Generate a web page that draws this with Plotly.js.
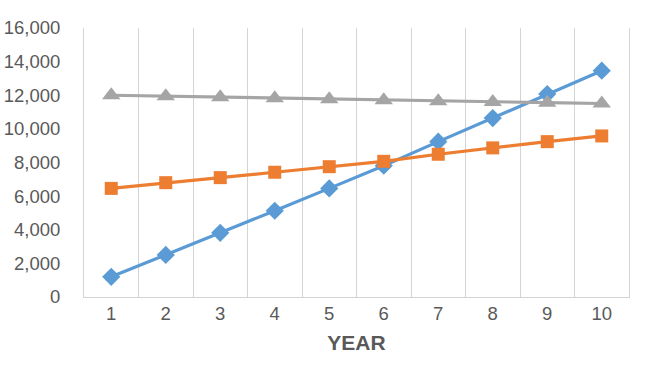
<!DOCTYPE html>
<html>
<head>
<meta charset="utf-8">
<script src="https://cdn.plot.ly/plotly-3.0.1.min.js"></script>
<style>html,body{margin:0;padding:0;background:#fff;}#chart{width:648px;height:372px;}</style>
</head>
<body>
<div id="chart"></div>
<script>
const years = ['1','2','3','4','5','6','7','8','9','10'];
const seriesBlue = [1200, 2500, 3820, 5130, 6460, 7810, 9240, 10640, 12070, 13460];
const seriesOrange = [6460, 6800, 7100, 7420, 7750, 8070, 8490, 8870, 9240, 9580];
const seriesGray = [12000, 11940, 11880, 11820, 11760, 11700, 11650, 11600, 11560, 11510];
const yTicks = [0, 2000, 4000, 6000, 8000, 10000, 12000, 14000, 16000];

const font = {family: 'Liberation Sans, Arial, sans-serif', size: 18.5, color: '#595959'};

const traces = [
  {x: years, y: seriesBlue, mode: 'lines+markers', name: 'Series1',
   line: {color: '#5b9bd5', width: 3.2}, marker: {symbol: 'diamond', size: 14, color: '#5b9bd5'}},
  {x: years, y: seriesOrange, mode: 'lines+markers', name: 'Series2',
   line: {color: '#ed7d31', width: 3.2}, marker: {symbol: 'square', size: 13, color: '#ed7d31'}},
  {x: years, y: seriesGray, mode: 'lines+markers', name: 'Series3',
   line: {color: '#a5a5a5', width: 3.2}, marker: {symbol: 'triangle-up', size: 16, color: '#a5a5a5'}}
];

const layout = {
  width: 648, height: 372,
  margin: {l: 84, r: 19, t: 28, b: 75},
  paper_bgcolor: '#fff', plot_bgcolor: '#fff',
  showlegend: false,
  font: font,
  xaxis: {
    type: 'category', tickson: 'boundaries', range: [-0.5, 9.5],
    showgrid: true, gridcolor: '#d4d4d4', gridwidth: 1,
    showline: true, linecolor: '#d4d4d4', linewidth: 1,
    ticks: 'outside', ticklen: 12, tickcolor: 'rgba(0,0,0,0)',
    tickfont: font, zeroline: false,
    title: {text: '<b>YEAR</b>', font: {family: 'Liberation Sans, Arial, sans-serif', size: 21, color: '#595959'}, standoff: 12}
  },
  yaxis: {
    range: [0, 16000], tickvals: yTicks, tickformat: ',d',
    showgrid: false, zeroline: false,
    showline: true, mirror: true, linecolor: '#d4d4d4', linewidth: 1,
    ticks: 'outside', ticklen: 19, tickcolor: 'rgba(0,0,0,0)',
    tickfont: font
  }
};

Plotly.newPlot('chart', traces, layout, {staticPlot: true, displayModeBar: false});
</script>
</body>
</html>
